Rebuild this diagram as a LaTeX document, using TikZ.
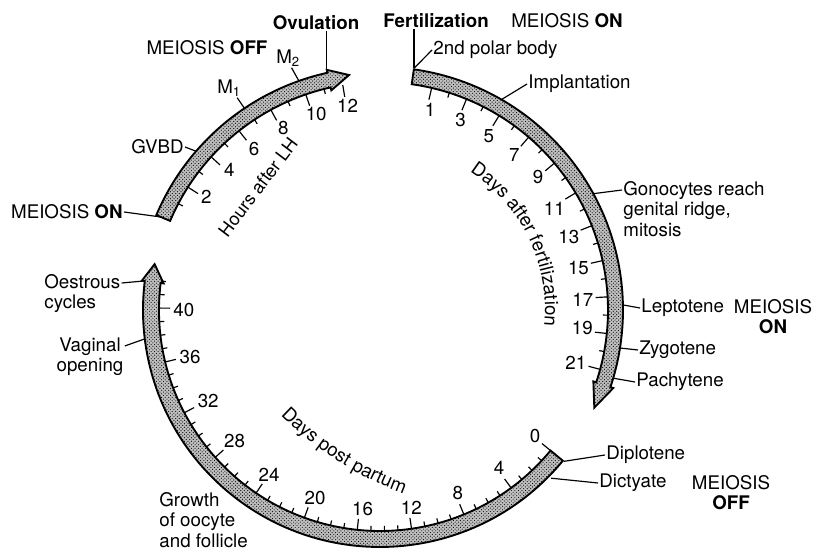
\documentclass[tikz,border=0pt]{standalone}
\usepackage{fontspec}
\setmainfont{TeX Gyre Heros}
\usetikzlibrary{calc,patterns,decorations.text}

\begin{document}
\begin{tikzpicture}[
    x=0.3mm, y=0.3mm,
    font=\fontsize{16}{17.5}\selectfont,
    band/.style={draw, line width=1.6pt, line join=miter, preaction={fill=gray!50}, pattern=crosshatch dots},
    tick/.style={line width=1pt},
    num/.style={inner sep=1pt},
    lbl/.style={inner sep=1pt},
    conn/.style={line width=1pt}
]
\useasboundingbox (0,0) rectangle (816,-552);
\coordinate (C) at (380,-310);

\begin{scope}[shift={(C)}]
% Hours after LH
\draw[band] (157:228) -- (157:243) arc[start angle=157, end angle=102.5, radius=243]
    -- (102.5:246) -- (97.5:237) -- (102.5:225) -- (102.5:228)
    arc[start angle=102.5, end angle=157, radius=228] -- cycle;
\foreach \h in {1,...,12}{
    \pgfmathsetmacro{\ang}{157-4.8*\h}
    \pgfmathsetmacro{\tl}{ifthenelse(mod(\h,2)==0,12,5)}
    \draw[tick] (\ang:228) -- (\ang:{228-\tl});
}
\foreach \h in {2,4,...,12}{
    \pgfmathtruncatemacro{\ang}{157-4.8*\h}
    \node[num, anchor=\ang] (h\h) at (\ang:215) {\h};
}
\coordinate (onpt) at (157:238);
\coordinate (gvbdpt) at (139.2:243);
\coordinate (mapt) at (123.9:243);
\coordinate (mbpt) at (109.5:243);
\coordinate (ovpt) at (102.5:246);

% Days after fertilization
\draw[band] (82:228) -- (82:243) arc[start angle=82, end angle=-18.5, radius=243]
    -- (-18.5:246) -- (-24.5:235.5) -- (-18.5:225) -- (-18.5:228)
    arc[start angle=-18.5, end angle=82, radius=228] -- cycle;
\foreach \d in {1,...,21}{
    \pgfmathsetmacro{\ang}{81.5-4.6*\d}
    \pgfmathsetmacro{\tl}{ifthenelse(mod(\d,2)==1,12,5)}
    \draw[tick] (\ang:228) -- (\ang:{228-\tl});
}
\foreach \d in {1,3,...,21}{
    \pgfmathtruncatemacro{\ang}{81.5-4.6*\d}
    \node[num, anchor=\ang] (f\d) at (\ang:215) {\d};
}
\coordinate (fertpt) at (82:244);
\coordinate (implpt) at (60:243);
\coordinate (gonopt) at (28.6:243);
\coordinate (leptopt) at (1.2:243);
\coordinate (zygopt) at (-9:243);
\coordinate (pachypt) at (-16.3:243);

% Days post partum
\draw[band] (-39.5:221) -- (-39.5:237) arc[start angle=-39.5, end angle=-187, radius=237]
    -- (-187:240) -- (-191.5:230) -- (-187:218) -- (-187:221)
    arc[start angle=-187, end angle=-39.5, radius=221] -- cycle;
\foreach \d in {0,...,42}{
    \pgfmathsetmacro{\ang}{-39.5-3.525*\d}
    \pgfmathsetmacro{\tl}{ifthenelse(mod(\d,4)==0,11,5)}
    \draw[tick] (\ang:221) -- (\ang:{221-\tl});
}
\foreach \d in {0,4,...,40}{
    \pgfmathtruncatemacro{\ang}{-39.5-3.525*\d}
    \node[num, anchor=\ang] (p\d) at (\ang:208) {\d};
}
\coordinate (diplopt) at (-39.5:238);
\coordinate (dictypt) at (-44.5:240);
\coordinate (vagpt) at (-173:237);
\coordinate (oestpt) at (173:238);

% axis titles
\path[decorate, decoration={text along path,
    text={|\fontsize{16}{17}\selectfont|Days after fertilization}}]
    (57:165) arc[start angle=57, end angle=-40, radius=165];
\end{scope}

\node[rotate=53, font=\fontsize{15.5}{17}\selectfont] (hours) at (258,-187) {Hours after LH};
\path[decorate, decoration={text along path,
    text={|\fontsize{16}{17}\selectfont|Days post partum}}]
    ($(519,-177)+(-135:337)$) arc[start angle=-135, end angle=-100, radius=337];

% labels
\node[lbl, anchor=east] (meionl) at (124,-212) {MEIOSIS \textbf{ON}};
\node[lbl] (meiofl) at (207,-48) {MEIOSIS \textbf{OFF}};
\node[lbl, anchor=east] (gvbd) at (185,-147) {GVBD};
\node[lbl] (ma) at (229,-88) {M\textsubscript{1}};
\node[lbl] (mb) at (288,-58) {M\textsubscript{2}};
\node[lbl] (ovul) at (316,-23) {\textbf{Ovulation}};
\node[lbl] (fert) at (436,-21) {\textbf{Fertilization}};
\node[lbl] (meiont) at (567,-21) {MEIOSIS \textbf{ON}};
\node[lbl, anchor=west] (polar) at (432,-50) {2nd polar body};
\node[lbl, anchor=west] (implant) at (527,-84) {Implantation};
\node[lbl, anchor=north west, align=left] (gono) at (622,-180) {Gonocytes reach\\genital ridge,\\mitosis};
\node[lbl, anchor=west] (lepto) at (640,-308) {Leptotene};
\node[lbl, anchor=north, align=center] (meionr) at (773,-298) {MEIOSIS\\\textbf{ON}};
\node[lbl, anchor=west] (zygo) at (638,-350) {Zygotene};
\node[lbl, anchor=west] (pachy) at (635,-382) {Pachytene};
\node[lbl, anchor=west] (diplo) at (605,-455) {Diplotene};
\node[lbl, anchor=west] (dicty) at (598,-483) {Dictyate};
\node[lbl, anchor=north, align=center] (meiofr) at (731,-474) {MEIOSIS\\\textbf{OFF}};
\node[lbl, anchor=north west, align=left] (oest) at (43,-273) {Oestrous\\cycles};
\node[lbl, anchor=north, align=center] (vag) at (90,-336) {Vaginal\\opening};
\node[lbl, anchor=north west, align=left] (growth) at (158,-491) {Growth\\of oocyte\\and follicle};

% connectors
\draw[conn] (meionl.east) -- (onpt);
\draw[conn] (gvbd.east) -- (gvbdpt);
\draw[conn] (ma.-50) -- (mapt);
\draw[conn] (mb.-70) -- (mbpt);
\draw[conn] (ovpt |- ovul.south) -- (ovpt);
\draw[conn] (fertpt |- fert.south) -- (fertpt);
\draw[conn] (polar.west) -- (fertpt);
\draw[conn] (implant.west) -- (implpt);
\draw[conn] ([yshift=-3mm]gono.north west) -- (gonopt);
\draw[conn] (lepto.west) -- (leptopt);
\draw[conn] (zygo.west) -- (zygopt);
\draw[conn] (pachy.west) -- (pachypt);
\draw[conn] (diplo.west) -- (diplopt);
\draw[conn] (dicty.west) -- (dictypt);
\draw[conn] ([yshift=-3mm]oest.north east) -- (oestpt);
\draw[conn] ([yshift=-3mm]vag.north east) -- (vagpt);

\end{tikzpicture}
\end{document}
